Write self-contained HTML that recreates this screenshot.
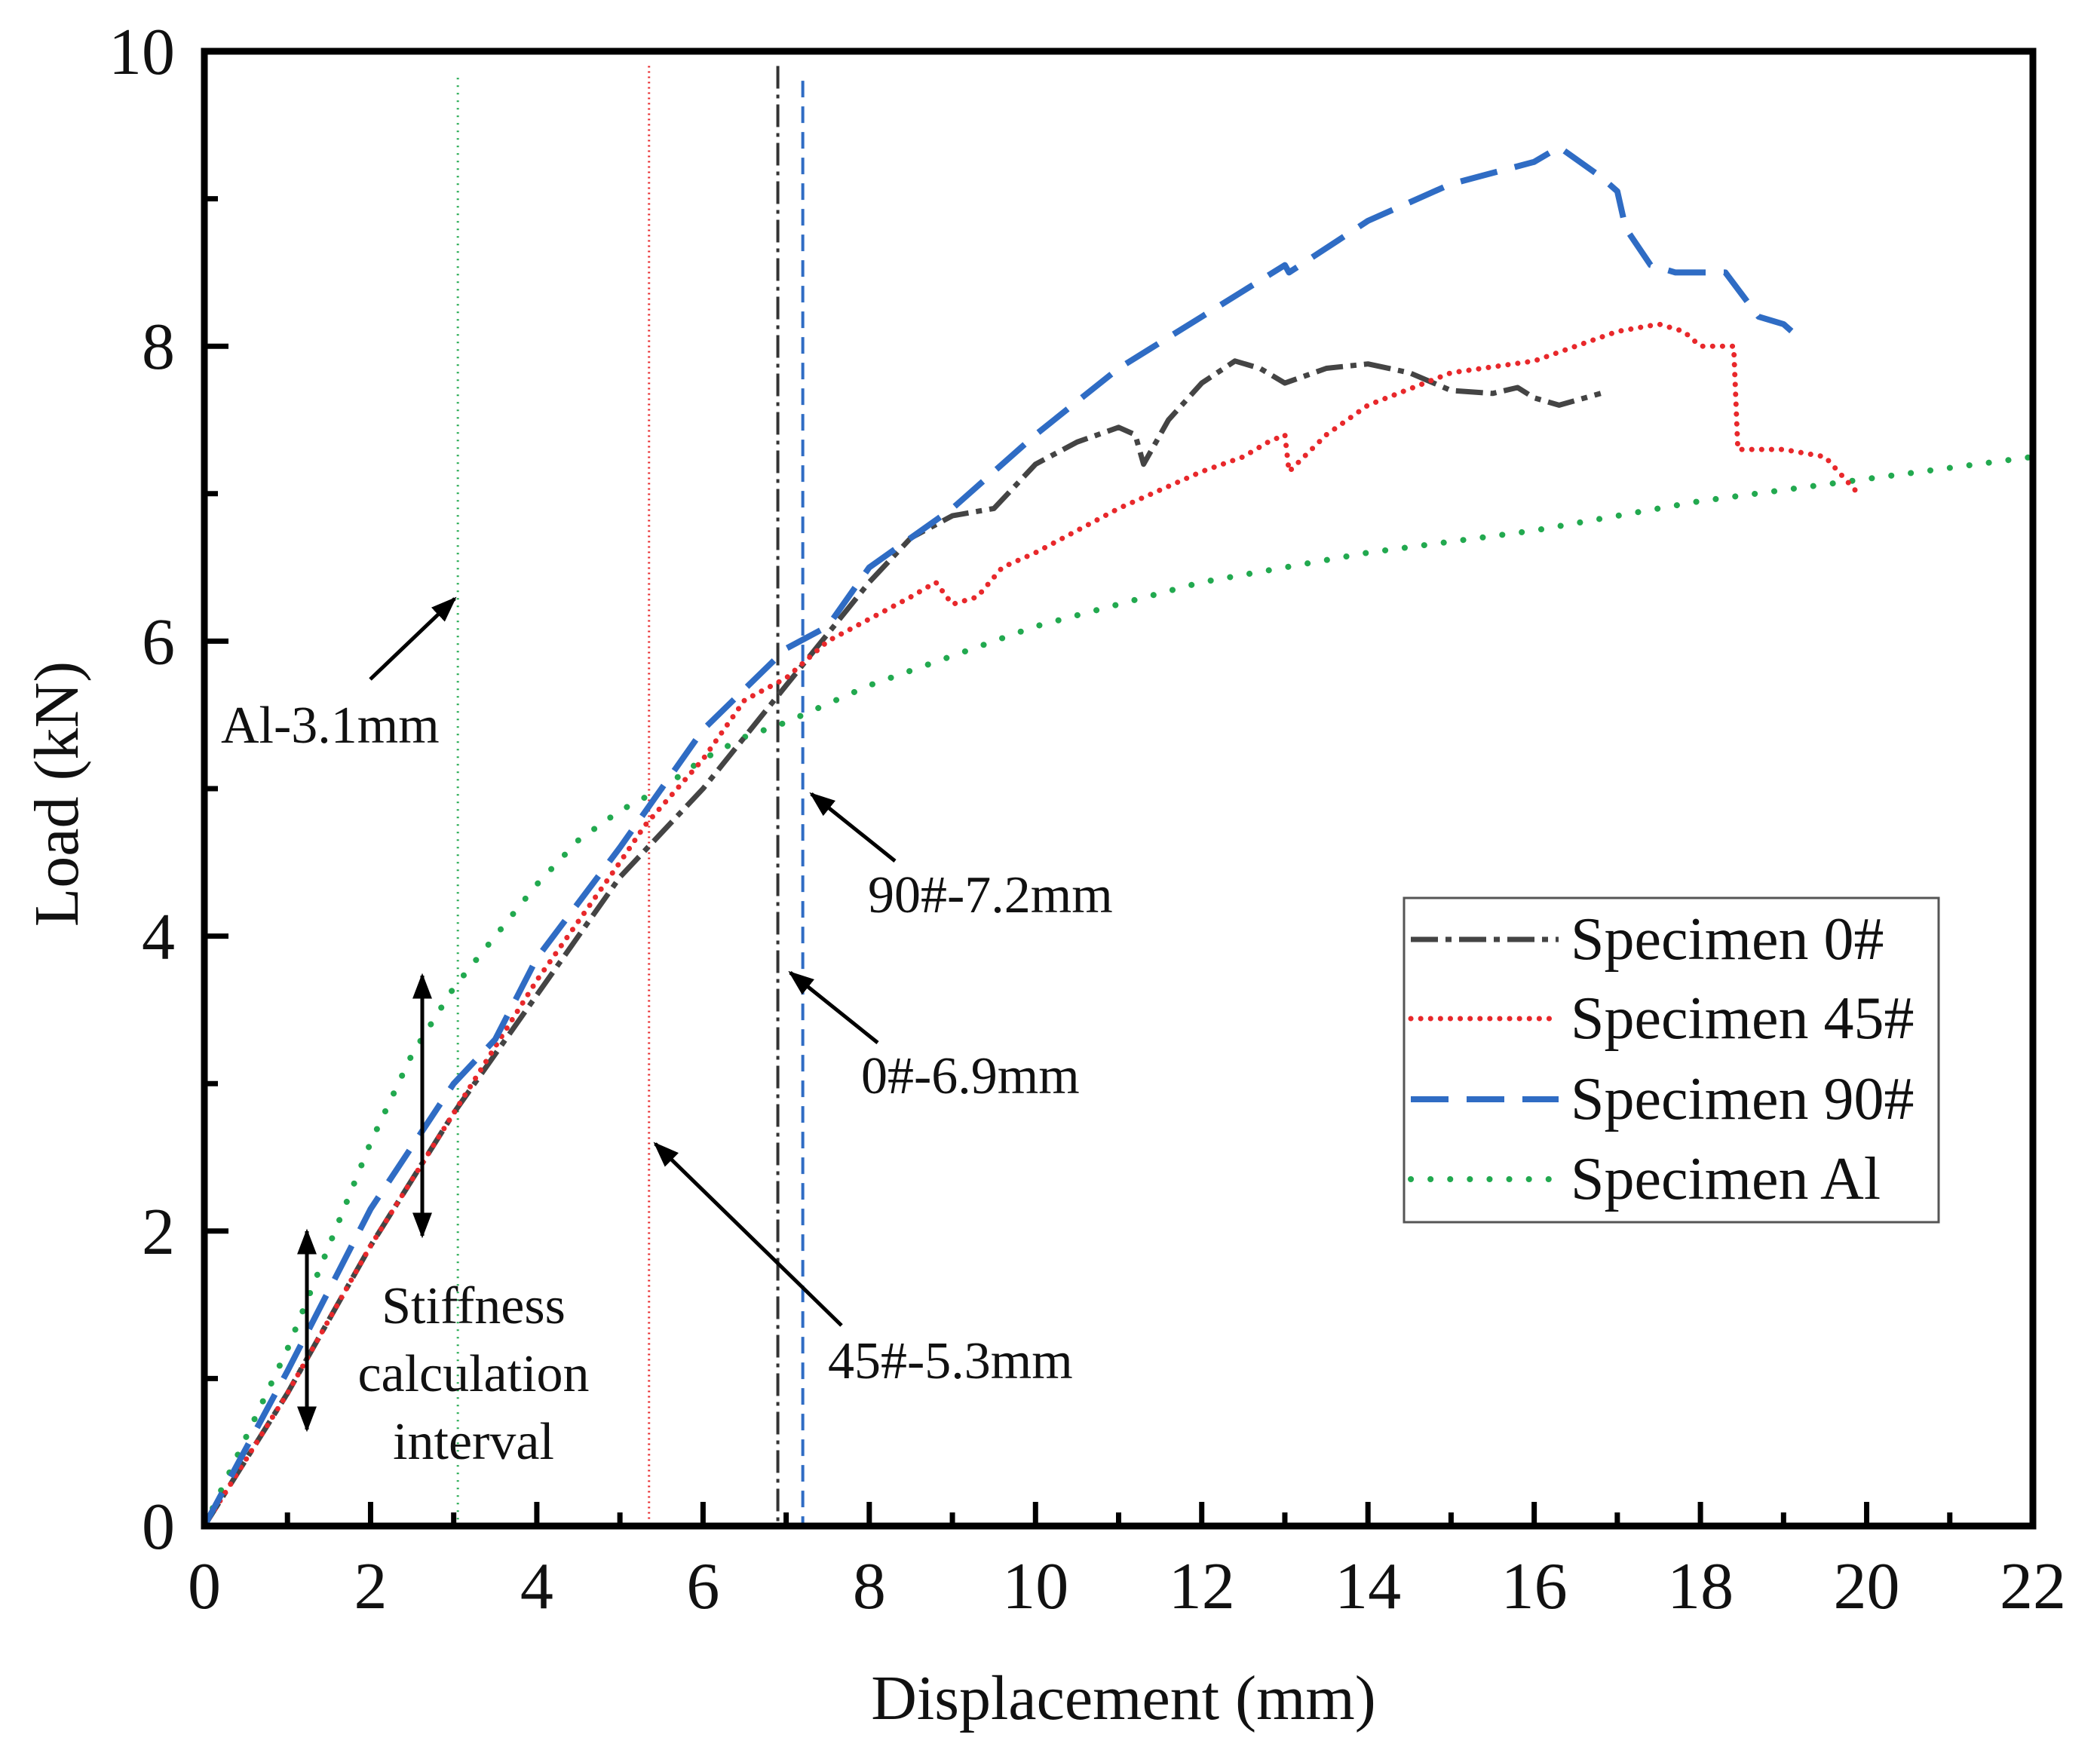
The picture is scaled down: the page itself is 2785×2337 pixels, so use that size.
<!DOCTYPE html>
<html><head><meta charset="utf-8"><style>
html,body{margin:0;padding:0;background:#fff}
svg{display:block}
text{font-family:"Liberation Serif",serif;fill:#111}
</style></head><body>
<svg id="chart" width="2785" height="2337" viewBox="0 0 2785 2337" xmlns="http://www.w3.org/2000/svg">
<defs>
<marker id="ah" viewBox="0 0 10 10" refX="9" refY="5" markerWidth="34" markerHeight="26" markerUnits="userSpaceOnUse" orient="auto-start-reverse" preserveAspectRatio="none">
<path d="M0,0 L10,5 L0,10 z" fill="#000"/></marker>
</defs>
<g id="plot"></g>
<g>
<line x1="491" y1="901" x2="603" y2="794" stroke="#000" stroke-width="5" marker-end="url(#ah)"/>
<text x="293" y="985" font-size="70">Al-3.1mm</text>
<line x1="1187" y1="1142" x2="1076" y2="1053" stroke="#000" stroke-width="5" marker-end="url(#ah)"/>
<text x="1151" y="1210" font-size="70">90#-7.2mm</text>
<line x1="1164" y1="1383" x2="1048" y2="1290" stroke="#000" stroke-width="5" marker-end="url(#ah)"/>
<text x="1142" y="1450" font-size="70">0#-6.9mm</text>
<line x1="1116" y1="1758" x2="869" y2="1517" stroke="#000" stroke-width="5" marker-end="url(#ah)"/>
<text x="1098" y="1828" font-size="70">45#-5.3mm</text>
<line x1="560" y1="1294" x2="560" y2="1639" stroke="#000" stroke-width="5" marker-end="url(#ah)" marker-start="url(#ah)"/>
<line x1="407" y1="1633" x2="407" y2="1896" stroke="#000" stroke-width="5" marker-end="url(#ah)" marker-start="url(#ah)"/>
<text font-size="70" text-anchor="middle"><tspan x="628" y="1755">Stiffness</tspan><tspan x="628" y="1845">calculation</tspan><tspan x="628" y="1935">interval</tspan></text>
</g>
<g>
<rect x="1862" y="1191" width="709" height="430" fill="#fff" stroke="#555" stroke-width="3"/>
<line x1="1871" y1="1246" x2="2067" y2="1246" stroke="#444" stroke-width="7" stroke-dasharray="36,10,8,10"/>
<text x="2083" y="1272" font-size="80">Specimen 0#</text>
<line x1="1871" y1="1351" x2="2067" y2="1351" stroke="#e8282b" stroke-width="7" stroke-dasharray="0.1,13" stroke-linecap="round"/>
<text x="2083" y="1377" font-size="80">Specimen 45#</text>
<line x1="1871" y1="1458" x2="2067" y2="1458" stroke="#2f6cc4" stroke-width="8" stroke-dasharray="50,24"/>
<text x="2083" y="1484" font-size="80">Specimen 90#</text>
<line x1="1871" y1="1564" x2="2067" y2="1564" stroke="#22a94f" stroke-width="8" stroke-dasharray="0.1,26" stroke-linecap="round"/>
<text x="2083" y="1590" font-size="80">Specimen Al</text>
</g>
<text x="1490" y="2280" font-size="84" text-anchor="middle">Displacement (mm)</text>
<text transform="translate(103,1053) rotate(-90)" font-size="84" text-anchor="middle">Load (kN)</text>
</svg>
<script>
const xTicks=[0,2,4,6,8,10,12,14,16,18,20,22];
const yTicks=[0,2,4,6,8,10];
const x0=[0,1,2,3,4,5,6,7,8,8.5,9,9.5,10,10.5,11,11.2,11.3,11.6,12,12.4,12.7,13,13.5,14,14.5,15,15.5,15.8,16,16.3,16.8];
const y0=[0,0.9,1.9,2.8,3.6,4.4,5.0,5.7,6.4,6.7,6.85,6.9,7.2,7.35,7.45,7.4,7.2,7.5,7.75,7.9,7.85,7.75,7.85,7.88,7.82,7.7,7.68,7.72,7.65,7.6,7.68];
const x45=[0,1,2,3,4,5,5.3,6,6.5,7,7.5,8,8.5,8.8,9,9.3,9.6,10,11,12,12.5,12.8,13,13.05,13.5,14,15,16,17,17.5,17.8,18,18.4,18.45,19,19.5,19.9];
const y45=[0,0.9,1.9,2.8,3.7,4.5,4.75,5.2,5.6,5.75,6.0,6.15,6.3,6.4,6.25,6.3,6.5,6.6,6.9,7.15,7.25,7.35,7.4,7.15,7.4,7.6,7.82,7.9,8.1,8.15,8.1,8.0,8.0,7.3,7.3,7.25,7.0];
const x90=[0,1,2,3,3.5,4,5,6,7,7.5,8,9,10,11,12,13,13.05,14,15,16,16.3,16.8,17,17.1,17.4,17.7,18,18.3,18.5,18.7,19,19.1];
const y90=[0,1.05,2.15,3.0,3.3,3.85,4.6,5.4,5.95,6.1,6.5,6.9,7.4,7.85,8.2,8.55,8.5,8.85,9.1,9.25,9.35,9.15,9.05,8.8,8.55,8.5,8.5,8.5,8.35,8.2,8.15,8.1];
const xAl=[0,0.5,1,1.5,2,2.5,3,3.5,4,4.5,5,5.5,6,6.5,7,8,10,12,14,16,18,20,22];
const yAl=[0,0.6,1.2,1.9,2.6,3.2,3.65,4.0,4.35,4.65,4.85,5.0,5.2,5.35,5.45,5.7,6.1,6.4,6.6,6.75,6.95,7.1,7.25];
const vLineX=[3.05,5.35,6.9,7.2];
const L=271,R=2696,T=68,B=2024;
const sx=v=>L+v*(R-L)/22, sy=v=>B-v*(B-T)/10;
const NS='http://www.w3.org/2000/svg';
const g=document.getElementById('plot');
function mk(tag,attrs){const e=document.createElementNS(NS,tag);for(const k in attrs)e.setAttribute(k,attrs[k]);g.appendChild(e);return e;}
const vStyles=[['#22a94f','3','2,8'],['#e8282b','3','2,5'],['#333','4','30,8,5,8'],['#2f6cc4','4','22,12']];
const vTop=[9.82,9.9,9.9,9.8];
vLineX.forEach((v,i)=>{const e=mk('line',{x1:sx(v),x2:sx(v),y1:sy(vTop[i]),y2:B,stroke:vStyles[i][0],'stroke-width':vStyles[i][1],'stroke-dasharray':vStyles[i][2]});

});
function series(xs,ys,name,st){const d=xs.map((x,i)=>(i?'L':'M')+sx(x).toFixed(1)+','+sy(ys[i]).toFixed(1)).join(' ');
const e=mk('path',Object.assign({d:d,fill:'none','stroke-linejoin':'round'},st));

}
series(xAl,yAl,'series-al',{stroke:'#22a94f','stroke-width':8,'stroke-dasharray':'0.1,26','stroke-linecap':'round'});
series(x0,y0,'series-0',{stroke:'#444','stroke-width':7,'stroke-dasharray':'36,10,8,10'});
series(x45,y45,'series-45',{stroke:'#e8282b','stroke-width':7,'stroke-dasharray':'0.1,13','stroke-linecap':'round'});
series(x90,y90,'series-90',{stroke:'#2f6cc4','stroke-width':8,'stroke-dasharray':'50,24'});
const fr=mk('rect',{x:L,y:T,width:R-L,height:B-T,fill:'none',stroke:'#000','stroke-width':9});


for(let v=0;v<=22;v++){const maj=v%2===0;mk('line',{x1:sx(v),x2:sx(v),y1:B,y2:B-(maj?32:18),stroke:'#000','stroke-width':7});}
for(let v=0;v<=10;v++){const maj=v%2===0;mk('line',{x1:L,x2:L+(maj?32:18),y1:sy(v),y2:sy(v),stroke:'#000','stroke-width':7});}
xTicks.forEach(v=>{const t=mk('text',{x:sx(v),y:2133,'font-size':88,'text-anchor':'middle'});t.textContent=v;

});
yTicks.forEach(v=>{const t=mk('text',{x:232,y:sy(v)+30,'font-size':88,'text-anchor':'end'});t.textContent=v;

});
</script>
</body></html>
